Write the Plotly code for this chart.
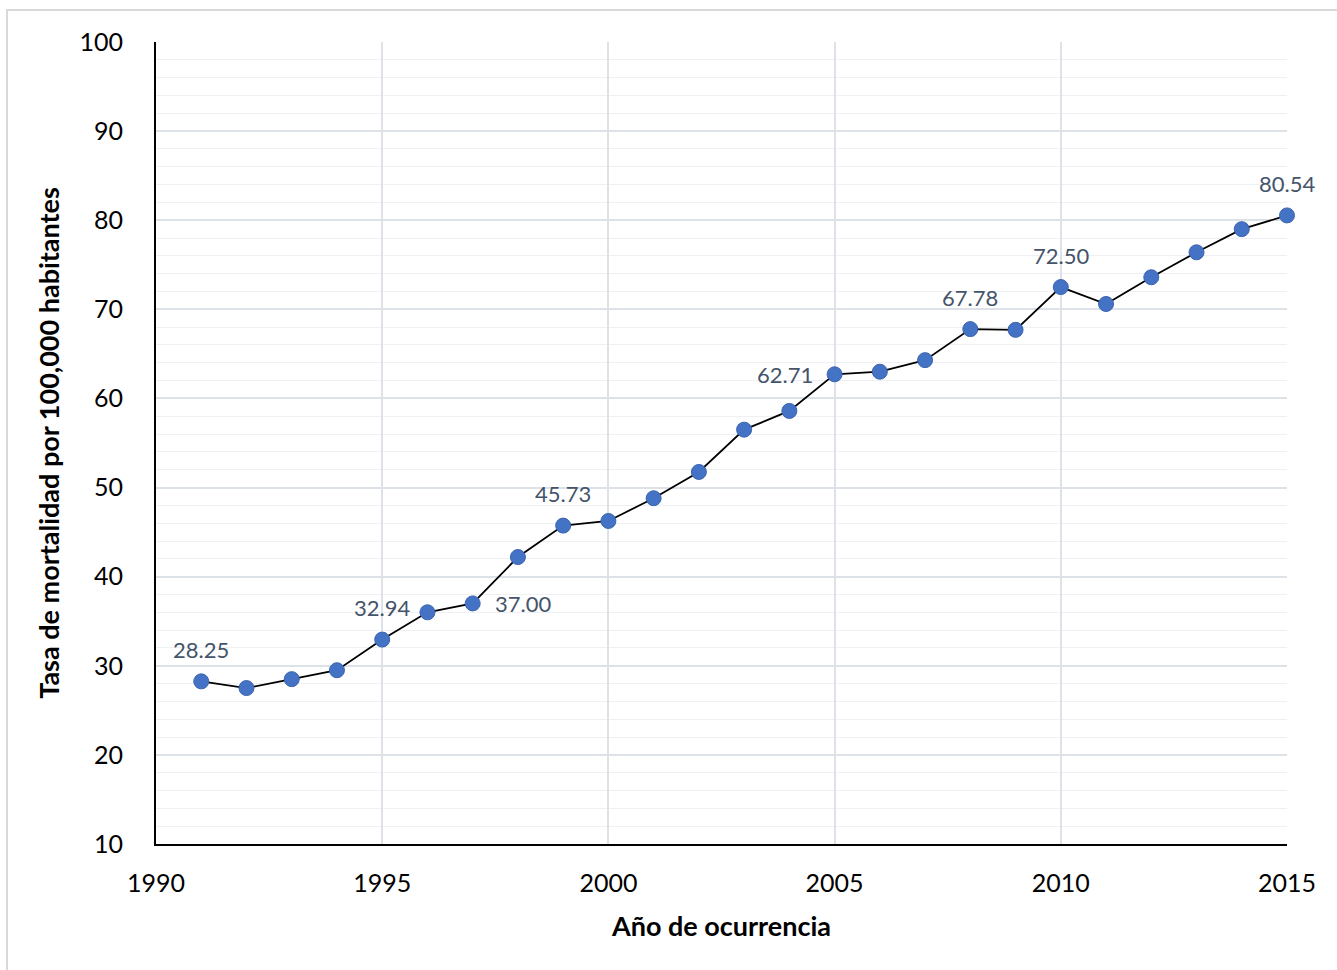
import plotly.graph_objects as go

years = list(range(1991, 2016))
tasa = [28.25, 27.5, 28.5, 29.5, 32.94, 36.0, 37.00, 42.2, 45.73, 46.25,
        48.8, 51.75, 56.5, 58.6, 62.71, 63.0, 64.3, 67.78, 67.7, 72.50,
        70.6, 73.6, 76.4, 79.0, 80.54]

# years whose value is printed next to the marker: (x shift, y shift) in px
label_shift = {1991: (0, 32), 1995: (0, 32), 1997: (50, 0), 1999: (0, 32),
               2005: (-50, 0), 2008: (0, 32), 2010: (0, 32), 2015: (0, 32)}

W, H = 1337, 970
L, R, T, B = 156, 50, 42, 126
pw, ph = W - L - R, H - T - B
font_fam = "Lato, Open Sans, sans-serif"

fig = go.Figure()
fig.add_trace(go.Scatter(
    x=years, y=tasa,
    mode="lines+markers",
    line=dict(color="black", width=1.8),
    marker=dict(color="#4472C4", size=15, line=dict(color="#3A64B0", width=1)),
    cliponaxis=False,
    showlegend=False,
))

for yr, v in zip(years, tasa):
    if yr in label_shift:
        dx, dy = label_shift[yr]
        fig.add_annotation(
            x=yr, y=v, text=f"{v:.2f}", showarrow=False,
            xshift=dx, yshift=dy,
            font=dict(family=font_fam, size=22, color="#44546A"),
        )

fig.update_layout(
    width=W, height=H,
    margin=dict(l=L, r=R, t=T, b=B),
    paper_bgcolor="white", plot_bgcolor="white",
    font=dict(family=font_fam, color="black"),
    xaxis=dict(
        range=[1990, 2015], tickvals=[1990, 1995, 2000, 2005, 2010, 2015],
        showgrid=True, gridcolor="#DDE1E8", gridwidth=1.5,
        showline=True, linecolor="black", linewidth=2,
        tickfont=dict(size=25), ticks="", ticklabelstandoff=16,
        title=dict(text="<b>Año de ocurrencia</b>", font=dict(size=27), standoff=21),
        zeroline=False,
    ),
    yaxis=dict(
        range=[10, 100], dtick=10,
        showgrid=True, gridcolor="#DDE1E8", gridwidth=1.5,
        minor=dict(dtick=2, showgrid=True, gridcolor="#EEF0F3", gridwidth=1),
        showline=True, linecolor="black", linewidth=2,
        tickfont=dict(size=25), ticks="", ticklabelstandoff=26,
        title=dict(text="<b>Tasa de mortalidad por 100,000 habitantes</b>",
                   font=dict(size=27), standoff=12),
        zeroline=False,
    ),
)

# thin frame around the whole chart area
fig.add_shape(
    type="rect", xref="paper", yref="paper",
    x0=(7 - L) / pw, x1=(W + 10 - L) / pw,
    y0=1 - (H + 10 - T) / ph, y1=1 - (10 - T) / ph,
    line=dict(color="#D9D9D9", width=2), fillcolor="rgba(0,0,0,0)", layer="below",
)

fig.write_html("out.html")
